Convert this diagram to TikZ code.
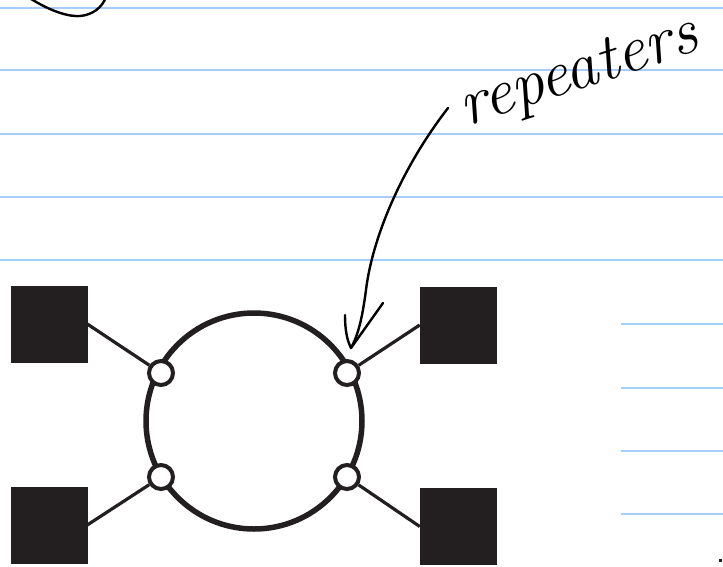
\documentclass[tikz,border=0pt]{standalone}
\usetikzlibrary{shapes.geometric}
\definecolor{ink}{RGB}{35,31,32}
\definecolor{rule}{RGB}{166,206,247}
\begin{document}
\begin{tikzpicture}[x=1pt,y=-1pt,
  ruleline/.style={draw=rule,line width=1.8},
  hostbox/.style={rectangle,fill=ink,draw=ink,line width=0.5,minimum size=76,inner sep=0},
  repeater/.style={circle,draw=ink,fill=white,line width=4,minimum size=24,inner sep=0},
  link/.style={draw=ink,line width=3.2},
  pen/.style={draw=black,line width=2.4,line cap=round,line join=round}]
\useasboundingbox (0,0) rectangle (723,566);
\clip (0,0) rectangle (723,566);
\fill[white] (0,0) rectangle (723,566);

% ruled notebook lines
\foreach \yy in {8,70,134,197,260} \draw[ruleline] (0,\yy) -- (723,\yy);
\foreach \yy in {324,388,451,514} \draw[ruleline] (621,\yy) -- (723,\yy);

% ring
\node[circle,draw=ink,line width=5.5,minimum size=216,inner sep=0] (ring) at (254,421) {};

% repeaters on the ring
\node[repeater] (rtl) at (161,373) {};
\node[repeater] (rtr) at (347,373) {};
\node[repeater] (rbl) at (161,477) {};
\node[repeater] (rbr) at (347,477) {};

% stations
\node[hostbox] (htl) at (49,324) {};
\node[hostbox] (hbl) at (49,525) {};
\node[hostbox] (htr) at (458,325) {};
\node[hostbox] (hbr) at (458,526.5) {};

% station links
\draw[link] (htl.east) -- (rtl);
\draw[link] (hbl.east) -- (rbl);
\draw[link] (htr.west) -- (rtr);
\draw[link] (hbr.west) -- (rbr);

% handwritten label and pointer
\node[anchor=base,rotate=18,inner sep=0] (label) at (584,88)
  {\fontsize{66}{66}\selectfont\itshape repeaters};
\coordinate (penstart) at (448,108);
\coordinate (tip) at (351,348);
\draw[pen] (penstart) .. controls (400,170) and (372,240) .. (366,290)
  .. controls (362,320) and (358,335) .. (tip);
\draw[pen] (345,315) .. controls (345,330) and (347,340) .. (tip);
\draw[pen] (383,303) -- (tip);

% stroke left over at the top edge
\draw[pen] (28,-3) .. controls (45,8) and (65,17) .. (80,16)
  .. controls (92,15) and (102,8) .. (106,-3);

% small mark in the corner
\fill[ink] (719,559) rectangle (722,562);
\end{tikzpicture}
\end{document}
